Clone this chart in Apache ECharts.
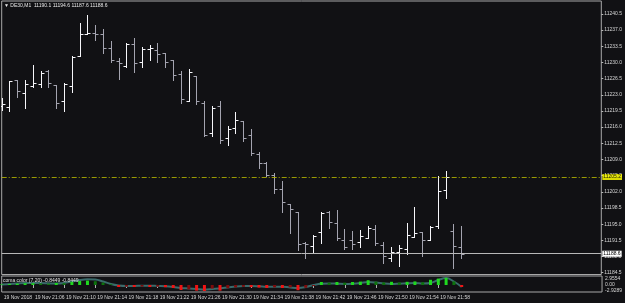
<!DOCTYPE html>
<html><head><meta charset="utf-8">
<script src="https://cdn.jsdelivr.net/npm/echarts@6/dist/echarts.min.js"></script>
<style>html,body{margin:0;padding:0;background:#111114;}#c{width:625px;height:303px;}</style>
</head><body><div id="c"></div>
<script>
const symbolName = 'DE30,M1';
const dateLabel = '19 Nov 2018';
const dayPrefix = '19 Nov ';
const times = ['21:02','21:03','21:04','21:05','21:06','21:07','21:08','21:09','21:10','21:11',
  '21:12','21:13','21:14','21:15','21:16','21:17','21:18','21:19','21:20','21:21',
  '21:22','21:23','21:24','21:25','21:26','21:27','21:28','21:29','21:30','21:31',
  '21:32','21:33','21:34','21:35','21:36','21:37','21:38','21:39','21:40','21:41',
  '21:42','21:43','21:44','21:45','21:46','21:47','21:48','21:49','21:50','21:51',
  '21:52','21:53','21:54','21:55','21:56','21:57','21:58','21:59','22:00','22:01'];
const opens = [11220.6,11220.3,11226.2,11223.3,11224.8,11225.3,11228.2,11225.1,11221.7,11224.9,
  11231.4,11236.2,11236.3,11236.1,11233.2,11230.3,11229.2,11233.9,11230.0,11232.9,
  11232.6,11232.0,11230.5,11227.5,11221.7,11227.0,11221.3,11214.7,11220.6,11213.7,
  11215.8,11217.3,11214.3,11210.2,11208.2,11205.6,11202.6,11199.3,11197.6,11191.0,
  11190.3,11193.2,11197.7,11195.2,11191.6,11191.6,11191.1,11192.0,11193.9,11190.5,
  11187.6,11188.9,11189.6,11192.3,11193.3,11191.6,11194.6,11202.3,11193.5,11190.1];
const highs = [11222.3,11226.0,11226.3,11226.2,11229.5,11228.2,11228.3,11225.2,11225.6,11231.4,
  11238.5,11240.3,11238.1,11237.2,11234.7,11230.9,11234.2,11235.2,11233.4,11233.8,
  11234.2,11232.1,11230.6,11228.2,11228.6,11227.1,11221.7,11220.6,11221.7,11216.3,
  11219.2,11217.4,11215.6,11210.6,11208.5,11206.1,11204.3,11199.4,11197.7,11191.1,
  11192.6,11197.6,11197.9,11198.1,11193.9,11193.5,11193.7,11194.6,11194.8,11191.1,
  11190.0,11190.5,11195.2,11198.8,11193.4,11194.6,11205.4,11206.6,11195.0,11194.6];
const lows = [11219.7,11219.5,11222.6,11220.2,11224.6,11224.7,11224.7,11220.1,11219.5,11223.7,
  11231.3,11236.1,11234.9,11232.0,11230.2,11226.4,11229.1,11228.0,11229.1,11230.5,
  11230.2,11229.1,11226.2,11221.2,11221.6,11221.0,11214.1,11214.1,11212.5,11212.1,
  11214.7,11213.1,11210.0,11207.1,11205.4,11201.8,11197.7,11193.0,11189.4,11187.7,
  11189.0,11190.9,11194.1,11191.6,11189.6,11189.6,11190.0,11191.9,11190.5,11186.5,
  11187.1,11185.9,11188.5,11192.2,11188.1,11191.5,11194.1,11200.6,11185.5,11187.6];
const closes = [11221.0,11225.9,11223.9,11225.3,11225.5,11227.8,11225.5,11221.2,11225.3,11231.1,
  11236.2,11236.4,11236.2,11233.2,11230.5,11229.8,11234.1,11229.8,11232.9,11233.1,
  11231.8,11230.2,11227.3,11222.1,11228.0,11221.7,11214.2,11220.1,11213.2,11215.5,
  11217.6,11213.7,11210.3,11208.3,11205.6,11202.6,11199.7,11198.2,11190.6,11190.6,
  11192.5,11197.4,11195.5,11191.9,11190.1,11190.7,11192.4,11194.1,11191.0,11188.1,
  11189.0,11189.8,11192.7,11193.0,11191.5,11194.4,11202.2,11205.2,11190.3,11188.6];
const priceTicks = [11240.5,11237.0,11233.5,11230.0,11226.5,11223.0,11219.5,11216.0,11212.5,
  11209.0,11205.5,11202.0,11198.5,11195.0,11191.5,11188.0,11184.5];
const alertLevel = 11205.2;

const indName = 'coma color (7,20)';
const indReadout = [-0.8449, -0.8449];
const indLine = [0.25,0.5,0.75,1.0,1.0,1.0,0.85,0.75,1.0,1.75,
  2.5,2.85,2.75,1.75,0.5,-0.25,-0.5,-0.5,-0.35,-0.35,
  -0.5,-0.65,-1.0,-1.5,-1.75,-2.0,-2.25,-2.0,-1.65,-1.25,
  -0.75,-0.5,-0.5,-0.65,-0.85,-0.85,-0.85,-1.25,-1.5,-1.0,
  0,0.65,0.75,0.65,0.5,0.65,1.0,1.5,1.25,0.75,
  0.5,0.65,0.85,1.0,0.75,1.0,2.5,3.5,1.75,-1.0];
const indHist = [0.3,0.5,0.7,0.9,0.9,0.8,0.7,1.0,0.9,1.6,
  2.0,2.2,1.9,1.2,0.4,-1.0,-0.8,-1.0,-0.8,-1.0,
  -0.8,-1.1,-1.5,-2.5,-2.2,-2.8,-3.0,-1.8,-2.8,-1.6,
  -1.2,-0.9,-1.1,-1.3,-1.5,-1.2,-1.5,-1.2,-2.6,-1.4,
  -0.5,1.5,1.2,1.5,1.2,1.5,1.7,2.4,1.7,1.3,
  1.6,1.3,1.6,1.8,1.4,2.6,3.2,3.6,1.8,-1.0];
const indTicks = [2.9554, 0, -2.9289];

const shiftBars = 18;
const cats = times.concat(new Array(shiftBars).fill(''));
const last = closes.length - 1;
const FONT = 'Liberation Sans';
const txt = '#d6d6d6';
const frame = '#a8a8a8';

const ohlc = times.map((t, i) => [i, opens[i], closes[i], lows[i], highs[i]]);

function renderOHLC(params, api) {
  const i = api.value(0);
  const o = api.value(1), c = api.value(2), l = api.value(3), h = api.value(4);
  const px = api.coord([i, o]);
  const x = Math.round(px[0]) + 0.5;
  const yo = Math.round(px[1]) + 0.5;
  const yc = Math.round(api.coord([i, c])[1]) + 0.5;
  const yl = Math.round(api.coord([i, l])[1]) + 1;
  const yh = Math.round(api.coord([i, h])[1]);
  const col = c >= o ? '#f6f6fa' : '#a4a4b0';
  const st = { stroke: col, lineWidth: 1 };
  return { type: 'group', children: [
    { type: 'line', shape: { x1: x, y1: yh, x2: x, y2: yl }, style: st },
    { type: 'line', shape: { x1: x - 3, y1: yo, x2: x, y2: yo }, style: st },
    { type: 'line', shape: { x1: x, y1: yc, x2: x + 3, y2: yc }, style: st }
  ]};
}

function histColor(i) {
  const v = indHist[i], p = i > 0 ? indHist[i - 1] : 0;
  if (v >= 0) return (v >= p || p < 0) ? '#1fd81f' : '#0d730d';
  return (v <= p || p > 0) ? '#f01414' : '#7e0c0c';
}

const showIdx = (idx) => idx % 4 === 0 && idx < times.length;

const header = '\u25BC ' + symbolName + '  ' + opens[last].toFixed(1) + ' ' + highs[last].toFixed(1) + ' ' +
  lows[last].toFixed(1) + ' ' + closes[last].toFixed(1);

const chart = echarts.init(document.getElementById('c'), null, { renderer: 'canvas' });
chart.setOption({
  backgroundColor: '#111114',
  animation: false,
  textStyle: { fontFamily: FONT },
  title: [
    { text: header, left: 4, top: 3, padding: 0,
      textStyle: { color: '#e8e8e8', fontSize: 5, fontWeight: 'normal', fontFamily: FONT } },
    { text: indName + ' ' + indReadout[0].toFixed(4) + ' ' + indReadout[1].toFixed(4), left: 3, top: 278, padding: 0,
      textStyle: { color: '#e0e0e0', fontSize: 5, fontWeight: 'normal', fontFamily: FONT } }
  ],
  grid: [
    { left: 1.7, right: 21, top: 1, height: 273.5, show: true, borderColor: frame, borderWidth: 1, backgroundColor: 'transparent' },
    { left: 1.7, right: 21, top: 276, height: 16, show: true, borderColor: frame, borderWidth: 1, backgroundColor: 'transparent' }
  ],
  xAxis: [
    { type: 'category', gridIndex: 0, data: cats, boundaryGap: false,
      axisLine: { show: false }, axisTick: { show: false }, axisLabel: { show: false }, splitLine: { show: false } },
    { type: 'category', gridIndex: 1, data: cats, boundaryGap: false,
      axisLine: { show: false },
      axisTick: { show: true, length: 3, interval: (idx) => showIdx(idx), lineStyle: { color: '#b0b0b0' } },
      axisLabel: { show: true, interval: (idx) => showIdx(idx), align: 'left', margin: 3, padding: [0, 0, 0, 2],
        fontSize: 5, color: txt, fontFamily: FONT,
        formatter: (v, idx) => idx === 0 ? dateLabel : (v ? dayPrefix + v : '') },
      splitLine: { show: false } }
  ],
  yAxis: [
    { type: 'value', gridIndex: 0, position: 'right', min: 11184.1, max: 11243.3, scale: true,
      axisLine: { show: false }, splitLine: { show: false },
      axisTick: { show: true, length: 2, customValues: priceTicks, lineStyle: { color: '#b8b8b8' } },
      axisLabel: { show: true, customValues: priceTicks, margin: 3, fontSize: 5, color: txt, fontFamily: FONT,
        formatter: (v) => v.toFixed(1) } },
    { type: 'value', gridIndex: 1, position: 'right', min: -3.5, max: 4.5,
      axisLine: { show: false }, splitLine: { show: false },
      axisTick: { show: false },
      axisLabel: { show: true, customValues: indTicks, margin: 3, fontSize: 5, color: txt, fontFamily: FONT,
        formatter: (v) => v === 0 ? '0.00' : v.toFixed(4) } }
  ],
  series: [
    { type: 'custom', name: symbolName, xAxisIndex: 0, yAxisIndex: 0, data: ohlc, renderItem: renderOHLC,
      encode: { x: 0, y: [1, 2, 3, 4] }, silent: true, z: 3, clip: true },
    { type: 'line', xAxisIndex: 0, yAxisIndex: 0, data: closes, symbol: 'none', silent: true,
      lineStyle: { opacity: 0 }, itemStyle: { opacity: 0 }, z: 2,
      markLine: { silent: true, symbol: ['none', 'none'], animation: false, precision: 1,
        data: [
          { yAxis: alertLevel, lineStyle: { color: '#b4b400', type: [5, 2, 1, 2], width: 1, opacity: 0.85 },
            label: { show: true, position: 'end', formatter: alertLevel.toFixed(1), distance: 1,
              backgroundColor: '#ffff00', color: '#000', fontSize: 5, padding: [1, 1, 0, 1], fontFamily: FONT } },
          { yAxis: closes[last], lineStyle: { color: '#b8b8b8', type: 'solid', width: 1 },
            label: { show: true, position: 'end', formatter: closes[last].toFixed(1), distance: 1,
              backgroundColor: '#ffffff', color: '#000', fontSize: 5, padding: [1, 1, 0, 1], fontFamily: FONT } }
        ] } },
    { type: 'line', xAxisIndex: 1, yAxisIndex: 1, data: indLine, symbol: 'none', smooth: 0.4, silent: true, z: 2,
      lineStyle: { color: '#3a6b6b', width: 2 } },
    { type: 'bar', xAxisIndex: 1, yAxisIndex: 1, barWidth: 3, silent: true, z: 3,
      data: indHist.map((v, i) => ({ value: v, itemStyle: { color: histColor(i) } })) }
  ]
});
</script>
</body></html>
